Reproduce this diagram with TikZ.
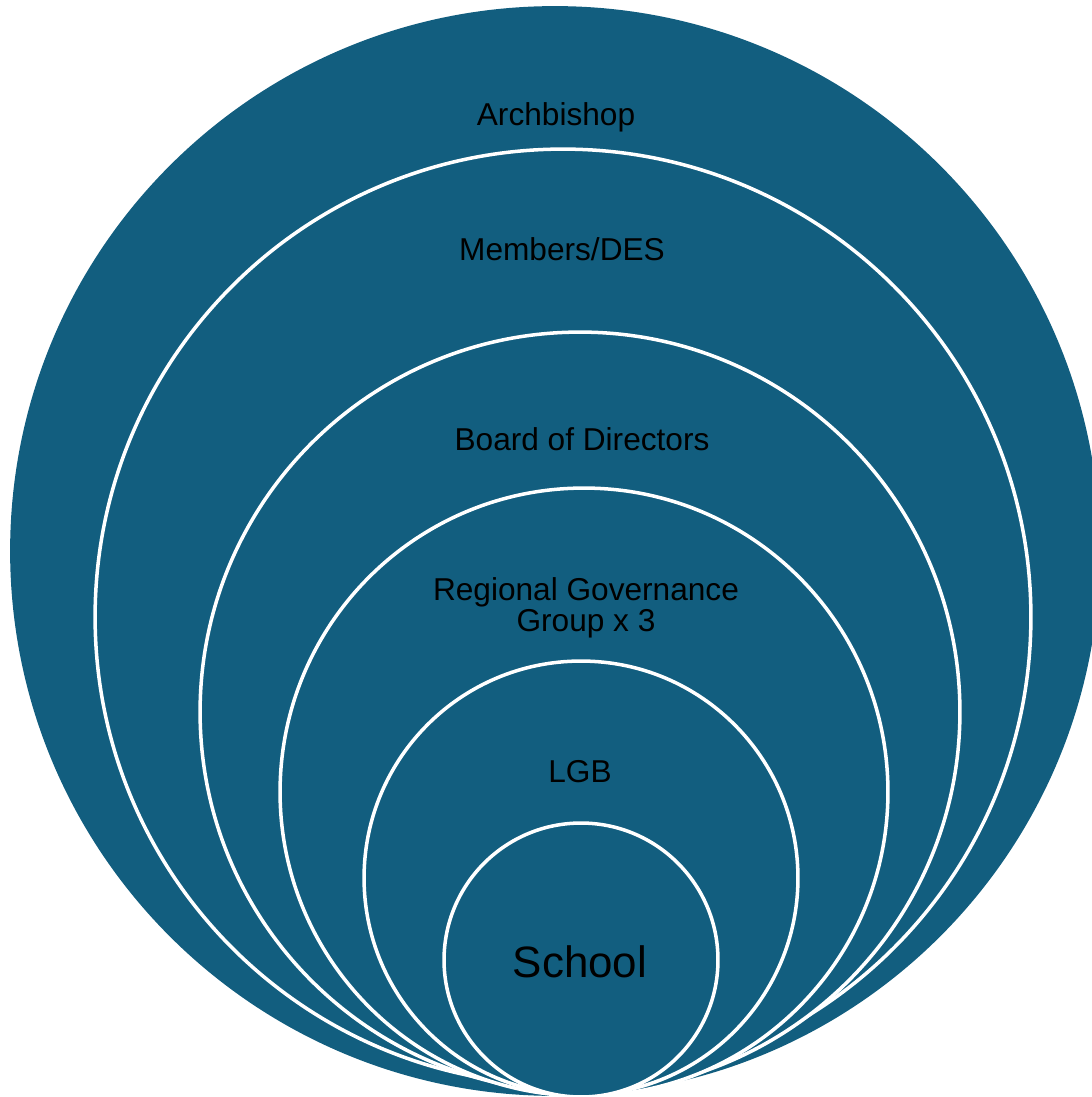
\documentclass[tikz,border=0pt]{standalone}
\usepackage{fontspec}
\setmainfont{Liberation Sans}
\usetikzlibrary{positioning}
\definecolor{ringblue}{RGB}{18,94,127}

\begin{document}
\begin{tikzpicture}[
    x=0.02cm, y=-0.02cm,
    ring/.style={
        circle, draw=white, line width=2pt, fill=ringblue,
        inner sep=0pt, minimum size=#1
    },
    ringlabel/.style={
        font=\fontsize{18}{15.8}\selectfont, anchor=base,
        align=center, text=black
    }
]
\useasboundingbox (0,0) rectangle (1091,1097);

% --- Rings, outermost first ---
\node[ring=21.8cm, draw=none] (arch) at (555,551) {};
\node[ring=18.72cm] (members) at (563,617) {};
\node[ring=15.2cm] (board) at (580,712) {};
\node[ring=12.16cm] (regional) at (584,792) {};
\node[ring=8.68cm] (lgb) at (581,878) {};
\node[ring=5.48cm] (school) at (581,960) {};

% --- Labels ---
\node[ringlabel] (arch-text) at (556,126) {Archbishop};
\node[ringlabel] (members-text) at (562,261) {Members/DES};
\node[ringlabel] (board-text) at (582,450) {Board of Directors};
\node[ringlabel] (regional-text) at (586,631) {Regional Governance\\Group x 3};
\node[ringlabel] (lgb-text) at (580,782) {LGB};
\node[ringlabel, font=\fontsize{25}{28}\selectfont] (school-text) at (580,977) {School};

\end{tikzpicture}
\end{document}
